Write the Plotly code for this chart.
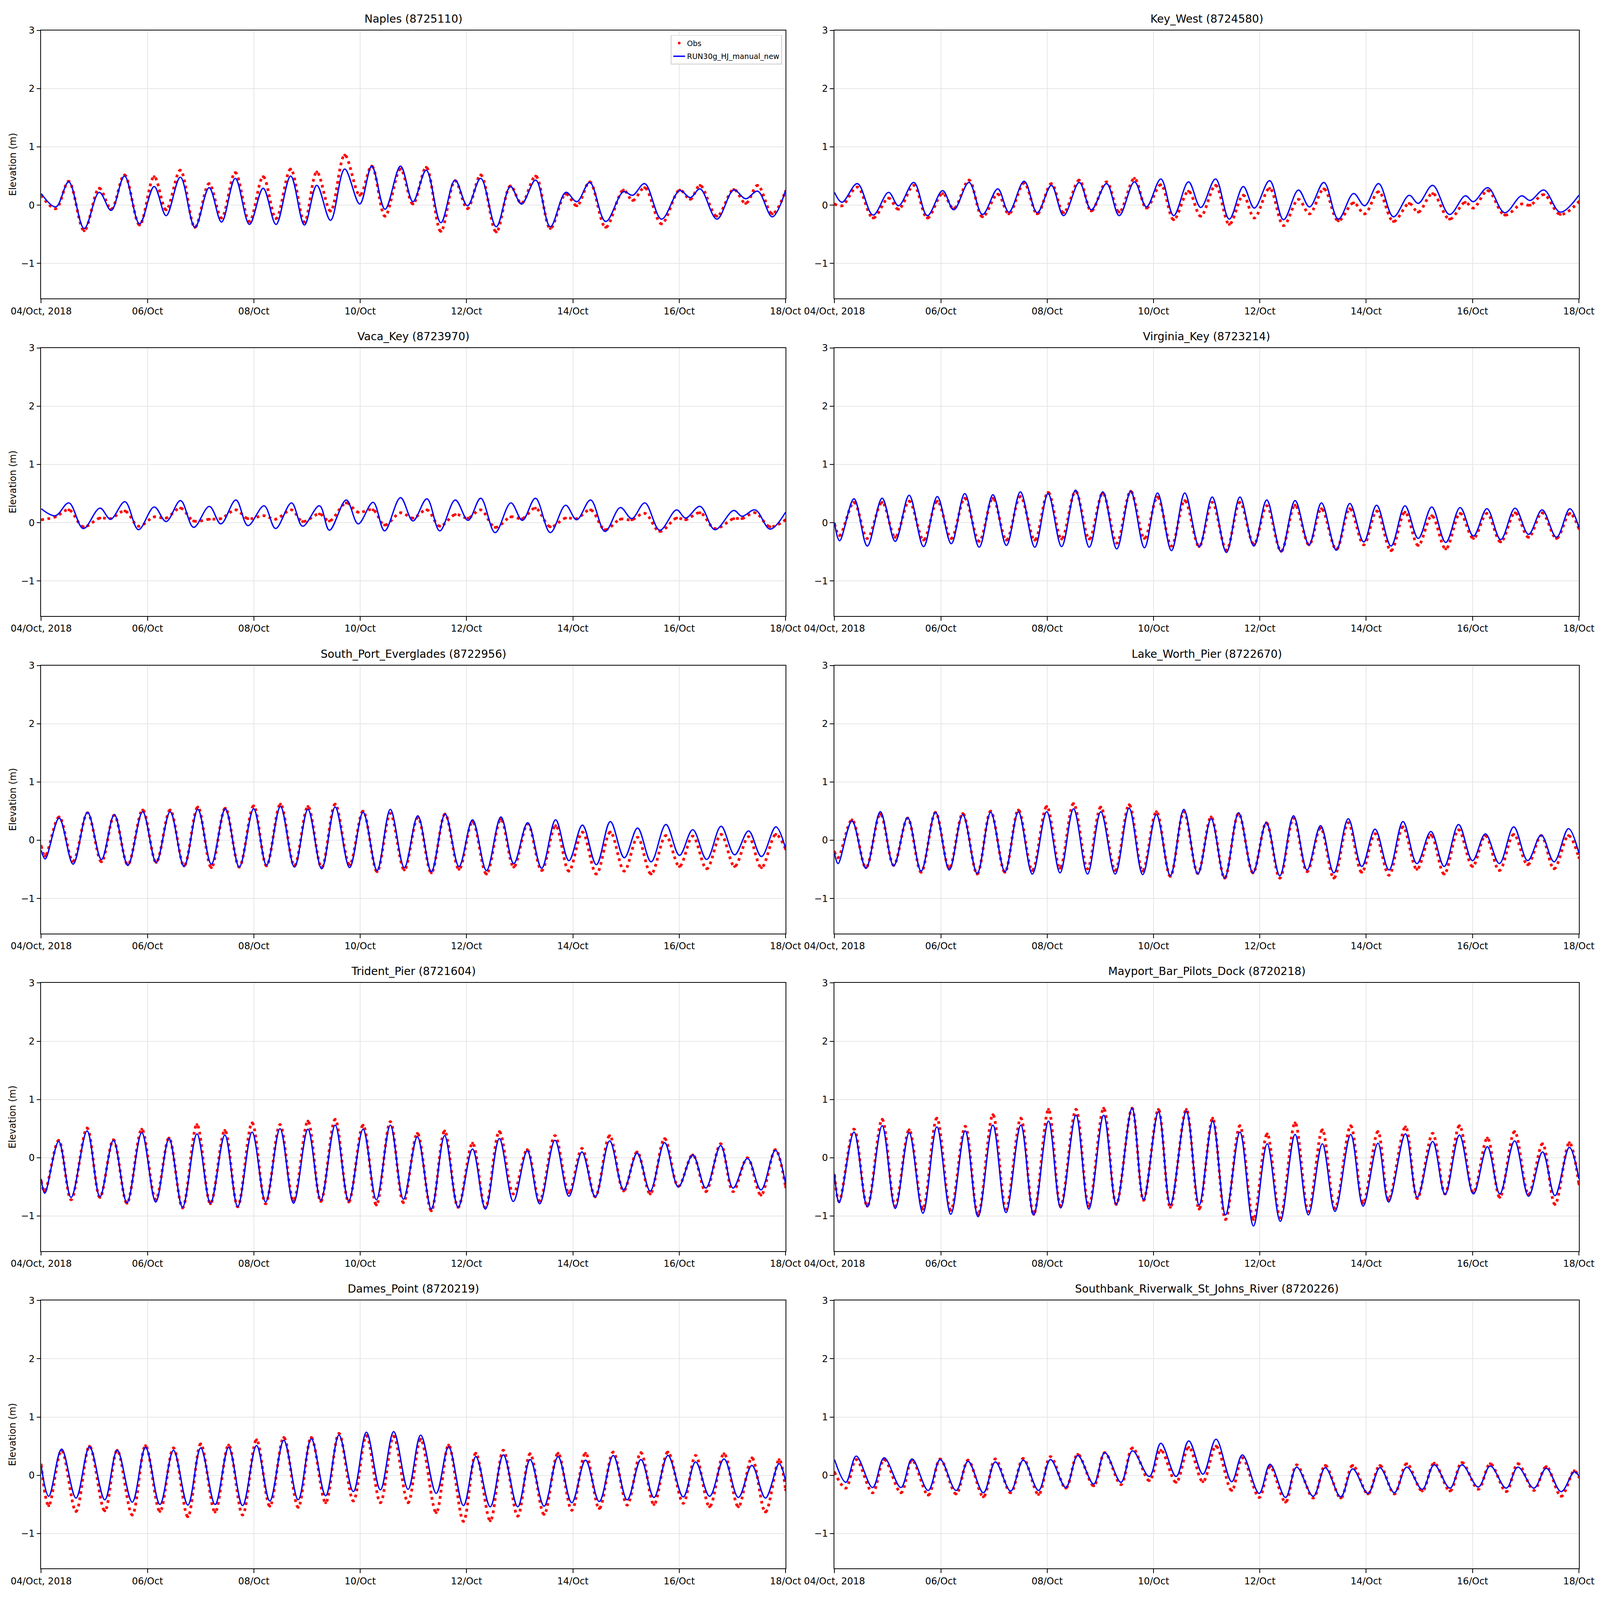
import pandas as pd
import plotly.graph_objects as go

START = "2018-10-04 00:00"
END = "2018-10-18 00:00"

TICK_DAYS = ["2018-10-04", "2018-10-06", "2018-10-08", "2018-10-10",
             "2018-10-12", "2018-10-14", "2018-10-16", "2018-10-18"]
TICK_TEXT = ["04/Oct, 2018", "06/Oct", "08/Oct", "10/Oct", "12/Oct", "14/Oct", "16/Oct", "18/Oct"]
Y_TICKS = [-1, 0, 1, 2, 3]
Y_TICK_TEXT = ["\u22121", "0", "1", "2", "3"]

STATIONS = ["Naples (8725110)", "Key_West (8724580)",
            "Vaca_Key (8723970)", "Virginia_Key (8723214)",
            "South_Port_Everglades (8722956)", "Lake_Worth_Pier (8722670)",
            "Trident_Pier (8721604)", "Mayport_Bar_Pilots_Dock (8720218)",
            "Dames_Point (8720219)", "Southbank_Riverwalk_St_Johns_River (8720226)"]

# hours after 04/Oct 00:00 of each high / low water, with observed and modelled elevation (m)
naples_hours = [0, 6.6, 12.4, 19.4, 26.2, 31.6, 37.6, 44.4, 51.0, 56.4, 62.8, 69.4, 75.8, 81.4, 87.6, 94.0,
                100.2, 106.0, 112.6, 118.8, 124.4, 130.6, 137.0, 143.8, 149.2, 155.2, 162.2, 167.8, 173.8,
                180.4, 186.8, 192.4, 198.4, 205.4, 211.8, 216.8, 223.2, 229.8, 236.8, 241.8, 247.6, 254.8,
                262.8, 267.0, 272.4, 280.0, 288.2, 293.0, 297.4, 305.0, 312.6, 318.0, 323.4, 330.0, 336]
naples_obs = [0.17, -0.06, 0.41, -0.44, 0.29, -0.07, 0.52, -0.34, 0.49, -0.08, 0.60, -0.38, 0.37, -0.22,
              0.56, -0.28, 0.49, -0.23, 0.62, -0.29, 0.57, -0.10, 0.86, 0.17, 0.67, -0.19, 0.62, 0.02, 0.65,
              -0.45, 0.42, -0.06, 0.52, -0.46, 0.33, 0.03, 0.50, -0.40, 0.19, -0.01, 0.40, -0.38, 0.26, 0.08,
              0.30, -0.32, 0.26, 0.10, 0.34, -0.19, 0.27, 0.03, 0.34, -0.15, 0.24]
naples_model = [0.20, -0.03, 0.40, -0.40, 0.22, -0.09, 0.50, -0.32, 0.32, -0.18, 0.48, -0.38, 0.30, -0.29,
                0.46, -0.33, 0.29, -0.33, 0.50, -0.34, 0.34, -0.26, 0.62, 0.02, 0.67, -0.07, 0.67, 0.06, 0.60,
                -0.30, 0.43, -0.01, 0.46, -0.37, 0.32, 0.02, 0.43, -0.37, 0.22, 0.06, 0.39, -0.28, 0.23, 0.17,
                0.37, -0.24, 0.25, 0.13, 0.28, -0.24, 0.26, 0.11, 0.24, -0.20, 0.25]

keywest_hours = [0, 3.4, 10.3, 17.4, 24.4, 28.9, 35.8, 41.9, 48.8, 53.8, 60.7, 66.8, 73.7, 78.7, 85.6, 91.5,
                 97.9, 103.4, 110.5, 115.9, 122.8, 128.5, 135.4, 140.8, 147.3, 153.1, 159.8, 165.3, 172.0,
                 178.2, 184.5, 189.5, 196.4, 202.7, 209.4, 214.4, 220.9, 227.4, 234.3, 239.3, 245.6, 252.3,
                 259.4, 263.5, 270.0, 277.6, 284.7, 288.4, 294.9, 302.5, 310.1, 314.0, 320.2, 327.6, 336]
keywest_obs = [0.02, -0.01, 0.31, -0.22, 0.12, -0.07, 0.34, -0.22, 0.20, -0.06, 0.43, -0.20, 0.19, -0.15,
               0.38, -0.15, 0.37, -0.13, 0.43, -0.10, 0.40, -0.12, 0.46, -0.05, 0.35, -0.25, 0.24, -0.19, 0.34,
               -0.33, 0.17, -0.22, 0.29, -0.35, 0.10, -0.15, 0.28, -0.27, 0.04, -0.15, 0.23, -0.28, 0.03, -0.12,
               0.20, -0.24, 0.05, -0.05, 0.25, -0.17, 0.02, 0.00, 0.18, -0.16, 0.06]
keywest_model = [0.22, 0.05, 0.37, -0.17, 0.22, -0.01, 0.39, -0.18, 0.25, -0.08, 0.39, -0.16, 0.28, -0.12,
                 0.41, -0.13, 0.34, -0.18, 0.39, -0.08, 0.37, -0.18, 0.40, -0.03, 0.45, -0.18, 0.40, -0.04, 0.45,
                 -0.24, 0.32, -0.05, 0.42, -0.25, 0.26, -0.03, 0.39, -0.24, 0.20, -0.01, 0.37, -0.20, 0.17, 0.03,
                 0.34, -0.16, 0.16, 0.06, 0.30, -0.13, 0.16, 0.08, 0.26, -0.12, 0.17]

vacakey_hours = [0, 6.4, 12.5, 19.0, 26.5, 31.3, 37.8, 43.9, 51.0, 56.4, 62.9, 68.8, 75.9, 81.1, 87.9, 93.3,
                 100.6, 105.8, 113.0, 118.0, 125.6, 130.1, 137.7, 143.1, 149.8, 155.0, 162.2, 167.8, 174.1,
                 179.9, 186.9, 192.7, 198.4, 204.9, 212.0, 217.2, 223.1, 229.8, 236.7, 241.7, 248.0, 254.5,
                 261.4, 266.6, 272.5, 279.2, 286.8, 290.9, 297.4, 304.1, 312.6, 316.3, 322.3, 329.0, 336]
vacakey_obs = [0.05, 0.10, 0.22, -0.07, 0.08, 0.07, 0.20, -0.06, 0.10, 0.08, 0.25, 0.03, 0.06, 0.07, 0.22,
               0.07, 0.12, 0.06, 0.22, 0.02, 0.15, 0.03, 0.34, 0.18, 0.22, -0.04, 0.17, 0.08, 0.22, -0.06, 0.14,
               0.08, 0.22, -0.08, 0.10, 0.07, 0.25, -0.07, 0.08, 0.07, 0.22, -0.12, 0.06, 0.05, 0.16, -0.15,
               0.08, 0.05, 0.17, -0.10, 0.07, 0.07, 0.17, -0.07, 0.05]
vacakey_model = [0.24, 0.12, 0.34, -0.10, 0.25, 0.06, 0.36, -0.12, 0.27, 0.02, 0.38, -0.08, 0.28, -0.02, 0.39,
                 -0.05, 0.29, -0.10, 0.34, -0.06, 0.29, -0.13, 0.39, -0.02, 0.35, -0.14, 0.43, 0.03, 0.41, -0.14,
                 0.39, 0.04, 0.42, -0.17, 0.34, 0.04, 0.42, -0.17, 0.30, 0.05, 0.39, -0.15, 0.26, 0.07, 0.34,
                 -0.13, 0.22, 0.08, 0.28, -0.12, 0.21, 0.11, 0.22, -0.11, 0.18]

virginia_hours = [0, 2.3, 8.8, 14.8, 21.5, 27.4, 33.7, 40.2, 46.4, 52.7, 58.8, 65.3, 71.5, 77.6, 83.9, 90.4,
                  96.4, 102.5, 108.8, 115.0, 121.1, 127.4, 133.7, 139.9, 145.8, 152.1, 158.1, 164.6, 170.5,
                  176.9, 183.0, 189.3, 195.1, 201.6, 207.9, 214.2, 219.8, 226.5, 232.6, 238.9, 244.7, 251.2,
                  257.5, 263.5, 269.6, 275.9, 282.4, 288.4, 294.5, 300.7, 307.2, 313.3, 319.4, 325.9, 331.9, 336]
virginia_obs = [-0.02, -0.22, 0.35, -0.27, 0.35, -0.25, 0.37, -0.30, 0.37, -0.27, 0.42, -0.32, 0.42, -0.30,
                0.45, -0.30, 0.52, -0.28, 0.54, -0.28, 0.51, -0.35, 0.54, -0.27, 0.44, -0.40, 0.38, -0.41, 0.35,
                -0.47, 0.35, -0.37, 0.29, -0.49, 0.30, -0.38, 0.24, -0.46, 0.24, -0.38, 0.20, -0.48, 0.18, -0.39,
                0.12, -0.45, 0.16, -0.27, 0.16, -0.33, 0.17, -0.25, 0.17, -0.27, 0.16, -0.10]
virginia_model = [0.00, -0.31, 0.41, -0.40, 0.42, -0.32, 0.47, -0.41, 0.45, -0.36, 0.50, -0.42, 0.48, -0.39,
                  0.53, -0.42, 0.50, -0.41, 0.56, -0.42, 0.53, -0.45, 0.54, -0.43, 0.51, -0.48, 0.51, -0.41, 0.44,
                  -0.51, 0.44, -0.40, 0.39, -0.50, 0.38, -0.38, 0.34, -0.47, 0.33, -0.33, 0.30, -0.40, 0.29,
                  -0.27, 0.27, -0.34, 0.26, -0.23, 0.24, -0.29, 0.25, -0.20, 0.22, -0.25, 0.24, -0.08]

spe_hours = [0, 1.8, 8.1, 14.4, 20.9, 27.2, 33.0, 39.1, 45.8, 51.9, 58.2, 64.5, 70.7, 76.8, 83.1, 89.4, 95.9,
             101.7, 108.0, 114.3, 120.4, 126.6, 132.7, 139.2, 145.3, 151.6, 157.6, 163.9, 170.0, 176.1, 182.3,
             188.6, 194.7, 201.0, 207.5, 213.3, 219.6, 225.9, 232.2, 238.2, 244.3, 250.6, 256.9, 263.2, 269.2,
             275.3, 282.0, 288.1, 294.1, 300.4, 306.9, 313.0, 319.3, 325.1, 331.6, 336]
spe_obs = [-0.10, -0.27, 0.40, -0.36, 0.47, -0.37, 0.43, -0.42, 0.52, -0.38, 0.52, -0.44, 0.57, -0.47, 0.55,
           -0.46, 0.59, -0.44, 0.62, -0.44, 0.58, -0.47, 0.62, -0.42, 0.50, -0.54, 0.46, -0.51, 0.39, -0.56, 0.45,
           -0.50, 0.32, -0.58, 0.36, -0.46, 0.28, -0.52, 0.25, -0.53, 0.14, -0.58, 0.14, -0.53, 0.05, -0.58, 0.08,
           -0.45, 0.07, -0.49, 0.10, -0.45, 0.06, -0.47, 0.10, -0.15]
spe_model = [-0.17, -0.32, 0.38, -0.41, 0.48, -0.33, 0.44, -0.43, 0.49, -0.38, 0.49, -0.45, 0.53, -0.41, 0.54,
             -0.46, 0.54, -0.43, 0.58, -0.46, 0.53, -0.49, 0.57, -0.47, 0.48, -0.52, 0.53, -0.47, 0.42, -0.54,
             0.45, -0.45, 0.35, -0.52, 0.40, -0.40, 0.30, -0.48, 0.35, -0.35, 0.26, -0.42, 0.32, -0.30, 0.21,
             -0.37, 0.27, -0.26, 0.18, -0.33, 0.24, -0.25, 0.16, -0.28, 0.23, -0.14]

lakeworth_hours = [0, 1.6, 7.9, 14.2, 20.7, 26.7, 33.0, 39.1, 45.6, 51.8, 57.9, 64.4, 70.5, 76.9, 83.0, 89.3,
                   95.8, 101.8, 107.9, 114.2, 120.2, 126.7, 133.0, 139.1, 145.3, 151.6, 157.7, 164.0, 170.0,
                   176.1, 182.4, 188.9, 194.9, 201.0, 207.2, 213.3, 219.4, 225.4, 231.9, 238.0, 244.0, 250.3,
                   256.6, 262.9, 269.2, 275.2, 281.7, 288.0, 293.8, 300.1, 306.6, 312.9, 319.0, 324.8, 331.3, 336]
lakeworth_obs = [-0.20, -0.30, 0.35, -0.47, 0.45, -0.43, 0.38, -0.55, 0.48, -0.48, 0.46, -0.58, 0.50, -0.55,
                 0.52, -0.52, 0.58, -0.48, 0.63, -0.49, 0.57, -0.52, 0.61, -0.53, 0.49, -0.62, 0.49, -0.57, 0.40,
                 -0.65, 0.46, -0.56, 0.30, -0.65, 0.38, -0.54, 0.21, -0.65, 0.30, -0.55, 0.11, -0.60, 0.23, -0.50,
                 0.09, -0.58, 0.18, -0.45, 0.08, -0.52, 0.10, -0.42, 0.08, -0.49, 0.08, -0.30]
lakeworth_model = [-0.22, -0.40, 0.33, -0.48, 0.49, -0.44, 0.39, -0.53, 0.48, -0.51, 0.44, -0.57, 0.48, -0.54,
                   0.49, -0.58, 0.49, -0.56, 0.54, -0.58, 0.49, -0.58, 0.55, -0.59, 0.44, -0.61, 0.53, -0.58,
                   0.37, -0.65, 0.47, -0.56, 0.30, -0.61, 0.42, -0.51, 0.25, -0.56, 0.37, -0.45, 0.19, -0.51,
                   0.32, -0.40, 0.15, -0.45, 0.27, -0.35, 0.11, -0.40, 0.23, -0.35, 0.09, -0.37, 0.20, -0.22]

trident_hours = [0, 1.6, 7.9, 13.5, 20.7, 26.5, 32.6, 38.7, 45.4, 51.7, 57.7, 63.8, 70.3, 76.4, 82.9, 88.7,
                 95.2, 101.3, 107.8, 113.9, 120.4, 126.2, 132.7, 138.8, 145.3, 151.3, 157.6, 163.5, 169.8,
                 176.1, 182.1, 188.2, 194.7, 200.5, 206.8, 213.1, 219.4, 225.0, 231.9, 238.2, 244.1, 250.1,
                 256.6, 262.9, 269.0, 274.9, 281.4, 287.6, 294.1, 300.0, 306.7, 312.3, 318.8, 324.9, 331.4, 336]
trident_obs = [-0.40, -0.58, 0.30, -0.72, 0.51, -0.68, 0.31, -0.78, 0.49, -0.72, 0.34, -0.86, 0.57, -0.79,
               0.47, -0.84, 0.60, -0.79, 0.57, -0.74, 0.63, -0.75, 0.66, -0.76, 0.56, -0.81, 0.62, -0.77, 0.42,
               -0.91, 0.46, -0.85, 0.25, -0.86, 0.45, -0.62, 0.14, -0.74, 0.38, -0.60, 0.16, -0.67, 0.38, -0.57,
               0.10, -0.62, 0.33, -0.49, 0.05, -0.58, 0.24, -0.58, 0.00, -0.64, 0.14, -0.50]
trident_model = [-0.36, -0.61, 0.28, -0.68, 0.46, -0.67, 0.30, -0.77, 0.43, -0.76, 0.33, -0.85, 0.41, -0.78,
                 0.39, -0.84, 0.44, -0.76, 0.50, -0.78, 0.49, -0.73, 0.56, -0.74, 0.49, -0.72, 0.56, -0.71, 0.36,
                 -0.88, 0.38, -0.85, 0.15, -0.88, 0.33, -0.75, 0.12, -0.79, 0.30, -0.66, 0.10, -0.67, 0.29,
                 -0.55, 0.08, -0.57, 0.26, -0.50, 0.05, -0.52, 0.21, -0.52, -0.01, -0.55, 0.13, -0.45]

mayport_hours = [0, 2.1, 8.8, 14.8, 21.5, 27.4, 33.7, 39.9, 46.2, 52.5, 59.0, 64.8, 71.5, 77.4, 84.1, 89.9,
                 96.6, 102.1, 109.0, 114.8, 121.5, 127.2, 134.3, 139.5, 146.2, 151.6, 158.8, 164.6, 170.7,
                 176.5, 183.0, 189.1, 195.3, 201.2, 207.9, 213.9, 220.2, 225.9, 233.0, 238.6, 245.3, 250.1,
                 257.7, 263.1, 270.0, 275.6, 282.1, 288.4, 294.7, 300.3, 307.0, 313.3, 319.6, 325.2, 331.7, 336]
mayport_obs = [-0.30, -0.75, 0.49, -0.83, 0.66, -0.83, 0.48, -0.88, 0.68, -0.90, 0.54, -0.98, 0.74, -0.88,
               0.68, -0.97, 0.83, -0.83, 0.83, -0.83, 0.85, -0.80, 0.85, -0.73, 0.83, -0.85, 0.83, -0.88, 0.68,
               -1.06, 0.55, -1.06, 0.41, -1.03, 0.60, -0.92, 0.48, -0.87, 0.55, -0.78, 0.45, -0.72, 0.53, -0.70,
               0.42, -0.62, 0.55, -0.60, 0.34, -0.68, 0.45, -0.63, 0.24, -0.80, 0.26, -0.45]
mayport_model = [-0.28, -0.77, 0.44, -0.84, 0.55, -0.87, 0.43, -0.95, 0.53, -0.97, 0.46, -1.01, 0.56, -0.94,
                 0.56, -0.98, 0.63, -0.86, 0.73, -0.88, 0.73, -0.80, 0.85, -0.72, 0.79, -0.81, 0.80, -0.81, 0.63,
                 -0.98, 0.44, -1.17, 0.24, -1.09, 0.40, -0.98, 0.24, -0.92, 0.40, -0.83, 0.25, -0.76, 0.41,
                 -0.68, 0.28, -0.63, 0.39, -0.62, 0.19, -0.62, 0.29, -0.66, 0.10, -0.65, 0.18, -0.36]

dames_hours = [0, 3.4, 9.2, 15.7, 21.8, 28.7, 34.3, 41.1, 47.1, 53.6, 59.7, 66.2, 72.0, 78.5, 84.6, 90.9, 97.2,
               103.2, 109.5, 116.0, 121.9, 128.4, 134.4, 140.9, 146.8, 153.1, 159.1, 165.6, 171.3, 178.3, 183.9,
               190.6, 196.2, 202.7, 208.6, 215.1, 220.7, 227.0, 233.3, 239.5, 245.7, 251.9, 258.2, 264.5, 270.7,
               276.6, 282.9, 289.8, 295.4, 301.7, 308.2, 314.7, 320.8, 326.9, 333.1, 336]
dames_obs = [0.18, -0.52, 0.43, -0.62, 0.50, -0.61, 0.43, -0.68, 0.51, -0.62, 0.47, -0.71, 0.54, -0.63, 0.52,
             -0.68, 0.61, -0.53, 0.65, -0.55, 0.65, -0.47, 0.72, -0.44, 0.68, -0.47, 0.67, -0.47, 0.62, -0.64,
             0.52, -0.79, 0.38, -0.78, 0.43, -0.70, 0.37, -0.67, 0.38, -0.60, 0.38, -0.57, 0.40, -0.51, 0.39,
             -0.50, 0.40, -0.48, 0.34, -0.54, 0.37, -0.54, 0.30, -0.63, 0.27, -0.25]
dames_model = [0.16, -0.36, 0.45, -0.39, 0.49, -0.42, 0.43, -0.46, 0.48, -0.50, 0.43, -0.51, 0.47, -0.50, 0.48,
               -0.52, 0.51, -0.44, 0.60, -0.42, 0.63, -0.35, 0.69, -0.28, 0.74, -0.25, 0.75, -0.24, 0.69, -0.31,
               0.49, -0.52, 0.32, -0.54, 0.35, -0.54, 0.27, -0.53, 0.32, -0.47, 0.26, -0.45, 0.34, -0.42, 0.27,
               -0.38, 0.34, -0.37, 0.23, -0.36, 0.28, -0.38, 0.17, -0.39, 0.20, -0.10]

southbank_hours = [0, 5.1, 9.8, 17.2, 22.4, 30.0, 35.0, 42.3, 47.7, 54.9, 60.3, 67.2, 72.6, 79.5, 85.2, 92.1,
                   97.5, 104.4, 109.8, 117.0, 122.0, 129.3, 134.5, 142.1, 147.3, 154.2, 159.9, 166.3, 172.2,
                   179.3, 184.1, 191.7, 196.6, 203.6, 208.6, 216.1, 221.5, 228.5, 233.9, 240.8, 246.2, 252.7,
                   258.3, 265.3, 270.7, 277.8, 283.2, 290.6, 296.0, 303.2, 308.5, 315.7, 321.3, 328.0, 333.9, 336]
southbank_obs = [0.05, -0.22, 0.27, -0.30, 0.27, -0.30, 0.26, -0.34, 0.28, -0.32, 0.26, -0.37, 0.28, -0.30,
                 0.29, -0.33, 0.32, -0.22, 0.36, -0.18, 0.39, -0.16, 0.47, -0.09, 0.43, -0.12, 0.48, -0.11, 0.50,
                 -0.26, 0.30, -0.38, 0.15, -0.46, 0.18, -0.39, 0.17, -0.39, 0.17, -0.32, 0.17, -0.32, 0.20, -0.27,
                 0.21, -0.27, 0.22, -0.24, 0.20, -0.28, 0.20, -0.26, 0.15, -0.36, 0.08, -0.03]
southbank_model = [0.27, -0.12, 0.33, -0.21, 0.30, -0.21, 0.28, -0.26, 0.27, -0.26, 0.24, -0.30, 0.23, -0.27,
                   0.26, -0.26, 0.27, -0.21, 0.34, -0.15, 0.39, -0.12, 0.42, -0.02, 0.55, -0.02, 0.59, 0.02,
                   0.62, -0.11, 0.35, -0.31, 0.19, -0.38, 0.14, -0.36, 0.13, -0.37, 0.11, -0.31, 0.13, -0.30,
                   0.14, -0.24, 0.18, -0.22, 0.18, -0.20, 0.16, -0.22, 0.14, -0.22, 0.12, -0.28, 0.06, -0.01]

panels = [(naples_hours, naples_obs, naples_model),
          (keywest_hours, keywest_obs, keywest_model),
          (vacakey_hours, vacakey_obs, vacakey_model),
          (virginia_hours, virginia_obs, virginia_model),
          (spe_hours, spe_obs, spe_model),
          (lakeworth_hours, lakeworth_obs, lakeworth_model),
          (trident_hours, trident_obs, trident_model),
          (mayport_hours, mayport_obs, mayport_model),
          (dames_hours, dames_obs, dames_model),
          (southbank_hours, southbank_obs, southbank_model)]

# the browser page comes out 4096 x 4096 css px, so the figure fills that page
VIEW = 4096
PAGE_PAD = 8                       # default body margin of the html page
KX = VIEW / 7650
KY = VIEW / 5850
FIG_W = VIEW - 2 * PAGE_PAD
FIG_H = VIEW - 2 * PAGE_PAD


def px_x(v):
    # x measured on the 7650 x 5850 reference -> figure px
    return v * KX - PAGE_PAD


def px_y(v):
    return v * KY - PAGE_PAD


col_px = [(197, 3756), (3990, 7549)]
row_top, row_bottom, row_step = 111, 1091, 1161
start = pd.Timestamp(START)

fig = go.Figure()
layout = {}
for i, (title, (hours, obs, model)) in enumerate(zip(STATIONS, panels)):
    r, c = divmod(i, 2)
    n = "" if i == 0 else str(i + 1)
    xa, ya = "x" + n, "y" + n
    t = [start + pd.Timedelta(hours=h) for h in hours]

    # observed series: hourly dots drawn as a dotted curve through the read highs/lows
    fig.add_trace(go.Scatter(x=t, y=obs, mode="lines", xaxis=xa, yaxis=ya, showlegend=False,
                             hoverinfo="skip",
                             line=dict(color="#ff0000", width=7, shape="spline", dash="7px,9px")))
    fig.add_trace(go.Scatter(x=t, y=obs, mode="markers", name="Obs", xaxis=xa, yaxis=ya,
                             legendgroup="obs", showlegend=(i == 0),
                             marker=dict(color="#ff0000", size=7)))
    fig.add_trace(go.Scatter(x=t, y=model, mode="lines", name="RUN30g_HJ_manual_new", xaxis=xa, yaxis=ya,
                             legendgroup="model", showlegend=(i == 0),
                             line=dict(color="#0000ff", width=3.4, shape="spline")))

    x0, x1 = col_px[c]
    top = row_top + r * row_step
    bottom = row_bottom + r * row_step
    xdom = [px_x(x0) / FIG_W, px_x(x1) / FIG_W]
    ydom = [1 - px_y(bottom) / FIG_H, 1 - px_y(top) / FIG_H]
    axis_style = dict(showline=True, linecolor="black", linewidth=1.8, mirror=True,
                      ticks="outside", ticklen=10, tickwidth=1.8, tickcolor="black",
                      showgrid=True, gridcolor="#e6e6e6", gridwidth=1.8, zeroline=False,
                      tickfont=dict(size=24, color="black"), automargin=False)
    layout["xaxis" + n] = dict(domain=xdom, anchor=ya, range=[START, END], type="date",
                               tickvals=TICK_DAYS, ticktext=TICK_TEXT, **axis_style)
    layout["yaxis" + n] = dict(domain=ydom, anchor=xa, range=[-1.6, 3],
                               tickvals=Y_TICKS, ticktext=Y_TICK_TEXT, **axis_style)

    fig.add_annotation(text=title, x=(xdom[0] + xdom[1]) / 2, y=ydom[1], xref="paper", yref="paper",
                       xanchor="center", yanchor="bottom", yshift=11, showarrow=False,
                       font=dict(size=28, color="black"))
    if c == 0:
        fig.add_annotation(text="Elevation (m)", x=px_x(61) / FIG_W, y=(ydom[0] + ydom[1]) / 2,
                           xref="paper", yref="paper", xanchor="center", yanchor="middle",
                           textangle=-90, showarrow=False, font=dict(size=24, color="black"))

fig.update_layout(**layout)
fig.update_layout(
    width=FIG_W, height=FIG_H,
    margin=dict(l=0, r=0, t=0, b=0),
    paper_bgcolor="white", plot_bgcolor="white",
    font=dict(family="DejaVu Sans", color="black"),
    legend=dict(x=px_x(3739) / FIG_W, y=1 - px_y(128) / FIG_H, xanchor="right", yanchor="top",
                font=dict(size=19), bgcolor="rgba(255,255,255,0.85)",
                bordercolor="#cccccc", borderwidth=1.8, tracegroupgap=6),
)

fig.write_html("out.html")
